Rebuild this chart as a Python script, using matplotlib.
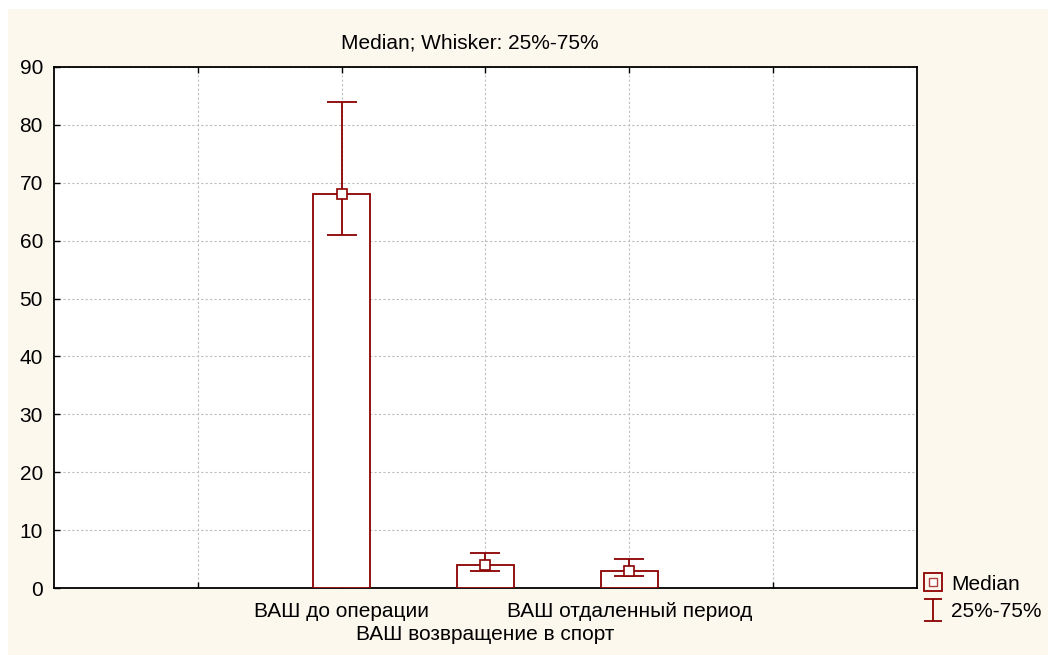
import matplotlib
matplotlib.use("Agg")
import matplotlib.pyplot as plt
from matplotlib.lines import Line2D
from matplotlib.patches import Rectangle
from matplotlib.path import Path
from matplotlib.legend_handler import HandlerTuple

categories = ["ВАШ до операции", "ВАШ возвращение в спорт", "ВАШ отдаленный период"]
medians = [68, 4, 3]
q25 = [61, 3, 2]
q75 = [84, 6, 5]
title = "Median; Whisker: 25%-75%"

RED = "#8B0000"
CREAM = "#FDF8EE"
FS = 15

plt.rcParams['font.family'] = ['Liberation Sans', 'DejaVu Sans']
W, H = 1048, 655
fig = plt.figure(figsize=(W / 100, H / 100), dpi=100, facecolor="white")
fig.patches.append(Rectangle((8 / W, 0), 1 - 8 / W, 1 - 9 / H, transform=fig.transFigure,
                             facecolor=CREAM, edgecolor="none", zorder=-10))

ax = fig.add_axes([54 / W, 1 - 588 / H, (917 - 54) / W, (588 - 67) / H])
ax.set_facecolor("white")

x = [2, 3, 4]
ax.bar(x, medians, width=0.4, facecolor="white", edgecolor=RED, linewidth=1.3, zorder=3)
lo = [m - a for m, a in zip(medians, q25)]
hi = [b - m for m, b in zip(medians, q75)]
ax.errorbar(x, medians, yerr=[lo, hi], fmt='none', ecolor=RED, elinewidth=1.3,
            capsize=10.5, capthick=1.3, zorder=4)
ax.plot(x, medians, linestyle='none', marker='s', markersize=6.5, markerfacecolor='white',
        markeredgecolor=RED, markeredgewidth=1.2, zorder=5)

ax.set_xlim(0, 6)
ax.set_ylim(0, 90)
ax.set_yticks(range(0, 91, 10))
ax.set_xticks([1, 2, 3, 4, 5])
ax.set_xticklabels(["", categories[0], "", categories[2], ""])
ax.tick_params(direction='in', length=4, width=1, top=True, right=False,
               labelsize=FS, colors='black')
ax.tick_params(axis='x', pad=9.8)
ax.tick_params(axis='y', pad=8)
# staggered second-row category label
ax.annotate(categories[1], xy=(x[1], 0), xycoords=('data', 'axes fraction'),
            xytext=(0, -33.3), textcoords='offset points', ha='center', va='center',
            fontsize=FS)
ax.grid(True, color="#BDBDBD", linestyle=(0, (2, 2)), linewidth=0.8, zorder=0)
for s in ax.spines.values():
    s.set_linewidth(1.3)
    s.set_color("black")

fig.text(470 / W, 1 - 43 / H, title, ha='center', va='center', fontsize=FS)

ibeam = Path([(-0.4, 0.5), (0.4, 0.5), (0, 0.5), (0, -0.5), (-0.4, -0.5), (0.4, -0.5)],
             [Path.MOVETO, Path.LINETO, Path.MOVETO, Path.LINETO, Path.MOVETO, Path.LINETO])
h_med = (Line2D([], [], linestyle='none', marker='s', markersize=13.5, markerfacecolor='none',
                markeredgecolor=RED, markeredgewidth=1.3),
         Line2D([], [], linestyle='none', marker='s', markersize=5.5, markerfacecolor='white',
                markeredgecolor="#B04040", markeredgewidth=1.0))
h_err = Line2D([], [], linestyle='none', marker=ibeam, markersize=16,
               markeredgecolor=RED, markerfacecolor='none', markeredgewidth=1.3)
leg = fig.legend([h_med, h_err], ["Median", "25%-75%"],
                 handler_map={tuple: HandlerTuple(ndivide=1, pad=0)},
                 loc='center left', bbox_to_anchor=(925 / W, 1 - 598 / H),
                 frameon=False, fontsize=FS, handlelength=0.8, handletextpad=0.45,
                 labelspacing=0.42, borderpad=0, borderaxespad=0)

fig.savefig("out.png", dpi=100, facecolor=fig.get_facecolor())
